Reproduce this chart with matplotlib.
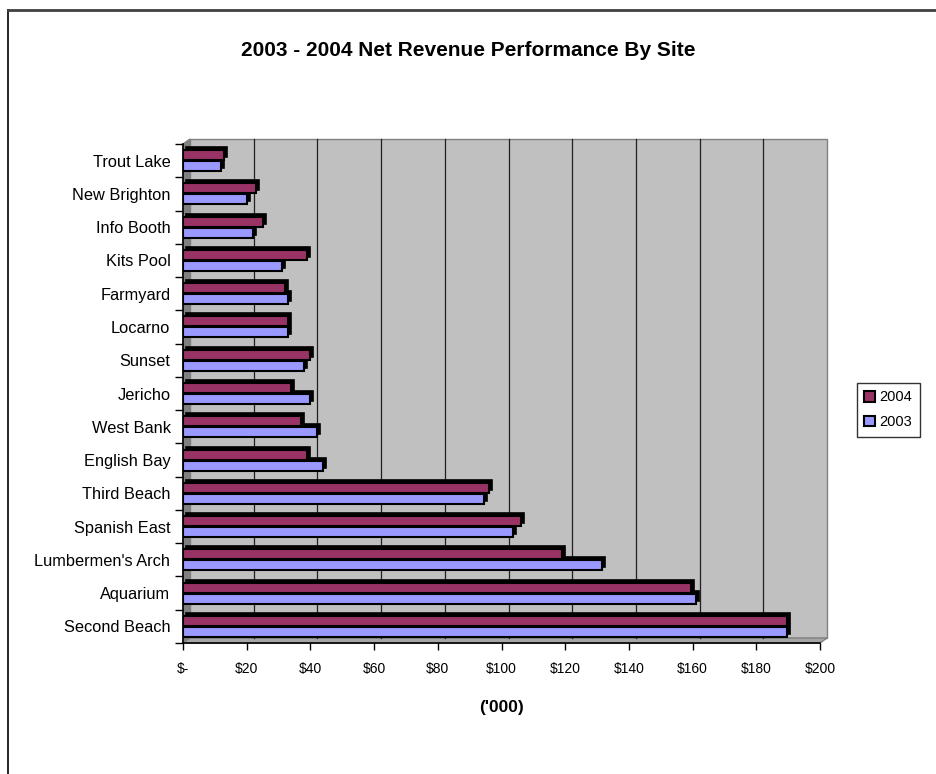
import numpy as np
import matplotlib
matplotlib.use("Agg")
import matplotlib.pyplot as plt
from matplotlib.patches import Polygon, Rectangle
from matplotlib.transforms import ScaledTranslation

plt.rcParams['font.family'] = ['Liberation Sans', 'DejaVu Sans']

# bottom to top, as in the chart
sites = ["Second Beach", "Aquarium", "Lumbermen's Arch", "Spanish East", "Third Beach",
         "English Bay", "West Bank", "Jericho", "Sunset", "Locarno",
         "Farmyard", "Kits Pool", "Info Booth", "New Brighton", "Trout Lake"]
rev_2004 = [189.5, 159.5, 119, 106, 96, 39, 37, 34, 40, 33, 32, 39, 25, 23, 13]
rev_2003 = [189.5, 161, 131.5, 103.5, 94.5, 44, 42, 40, 38, 33, 33, 31, 22, 20, 12]
xticks = np.arange(0, 201, 20)
xlabels = ["$-"] + ["$%d" % v for v in xticks[1:]]

fig = plt.figure(figsize=(9.36, 7.74), dpi=100)
W, H = 936, 774
ax = fig.add_axes([183 / W, (H - 643) / H, 637 / W, 499 / H])
ax.set_xlim(0, 200)
ax.set_ylim(-0.5, 14.5)
ax.patch.set_visible(False)

# 3d depth of walls in data units
dx = 7 / (637 / 200)
dy = 5 / (499 / 15)

ax.add_patch(Rectangle((dx, -0.5 + dy), 200, 15, facecolor='#C0C0C0',
                       edgecolor='#808080', lw=1, zorder=0, clip_on=False))
ax.add_patch(Polygon([(0, -0.5), (0, 14.5), (dx, 14.5 + dy), (dx, -0.5 + dy)],
                     closed=True, facecolor='#808080', edgecolor='#808080', zorder=0.5, clip_on=False))
ax.add_patch(Polygon([(0, -0.5), (200, -0.5), (200 + dx, -0.5 + dy), (dx, -0.5 + dy)],
                     closed=True, facecolor='#A6A6A6', edgecolor='#808080', zorder=0.5, clip_on=False))
for x in xticks[1:-1]:
    ax.plot([x + dx, x + dx], [-0.5 + dy, 14.5 + dy], color='#202020', lw=0.9, zorder=0.6, clip_on=False)

y = np.arange(len(sites))
h = 0.3
off = 0.165
shadow = ax.transData + ScaledTranslation(3 / 100, 3 / 100, fig.dpi_scale_trans)

for vals, col, yo in [(rev_2004, '#993366', off), (rev_2003, '#9999FF', -off)]:
    sh = ax.barh(y + yo, vals, height=h, color='black', edgecolor='black', lw=1.2, zorder=2)
    for p in sh.patches:
        p.set_transform(shadow)
        p.set_clip_on(False)
    ax.barh(y + yo, vals, height=h, color=col, edgecolor='black', lw=1.5, zorder=3,
            label=str(2004 if yo > 0 else 2003))

ax.set_yticks(y)
ax.set_yticklabels(sites, fontsize=11.8)
ax.set_yticks(np.arange(-0.5, 15, 1), minor=True)
ax.tick_params(axis='y', which='major', length=0, pad=9)
ax.tick_params(axis='y', which='minor', length=6, width=1, direction='out')
ax.set_xticks(xticks)
ax.set_xticklabels(xlabels, fontsize=10)
ax.tick_params(axis='x', length=5, width=1, pad=9)
for s in ['top', 'right']:
    ax.spines[s].set_visible(False)
for s in ['left', 'bottom']:
    ax.spines[s].set_color('black')
    ax.spines[s].set_linewidth(1.2)

ax.set_xlabel("('000)", fontsize=12.5, fontweight='bold', labelpad=17)
fig.text(468 / W, 1 - 50 / H, "2003 - 2004 Net Revenue Performance By Site",
         ha='center', va='center', fontsize=15, fontweight='bold')

leg = fig.legend(loc='upper left', bbox_to_anchor=(857 / W, 1 - 383 / H), fontsize=10.5,
                 frameon=True, fancybox=False, shadow=False, handlelength=0.75, handleheight=0.75,
                 handletextpad=0.3, borderpad=0.5, labelspacing=0.75, borderaxespad=0)
leg.get_frame().set_edgecolor('black')
leg.get_frame().set_linewidth(1)

# outer chart border
fig.add_artist(plt.Line2D([8 / W, 8 / W], [0, 1 - 10 / H], color='black', lw=1.2))
fig.add_artist(plt.Line2D([8 / W, 1], [1 - 10 / H, 1 - 10 / H], color='#404040', lw=2))

fig.savefig("out.png", dpi=100)
